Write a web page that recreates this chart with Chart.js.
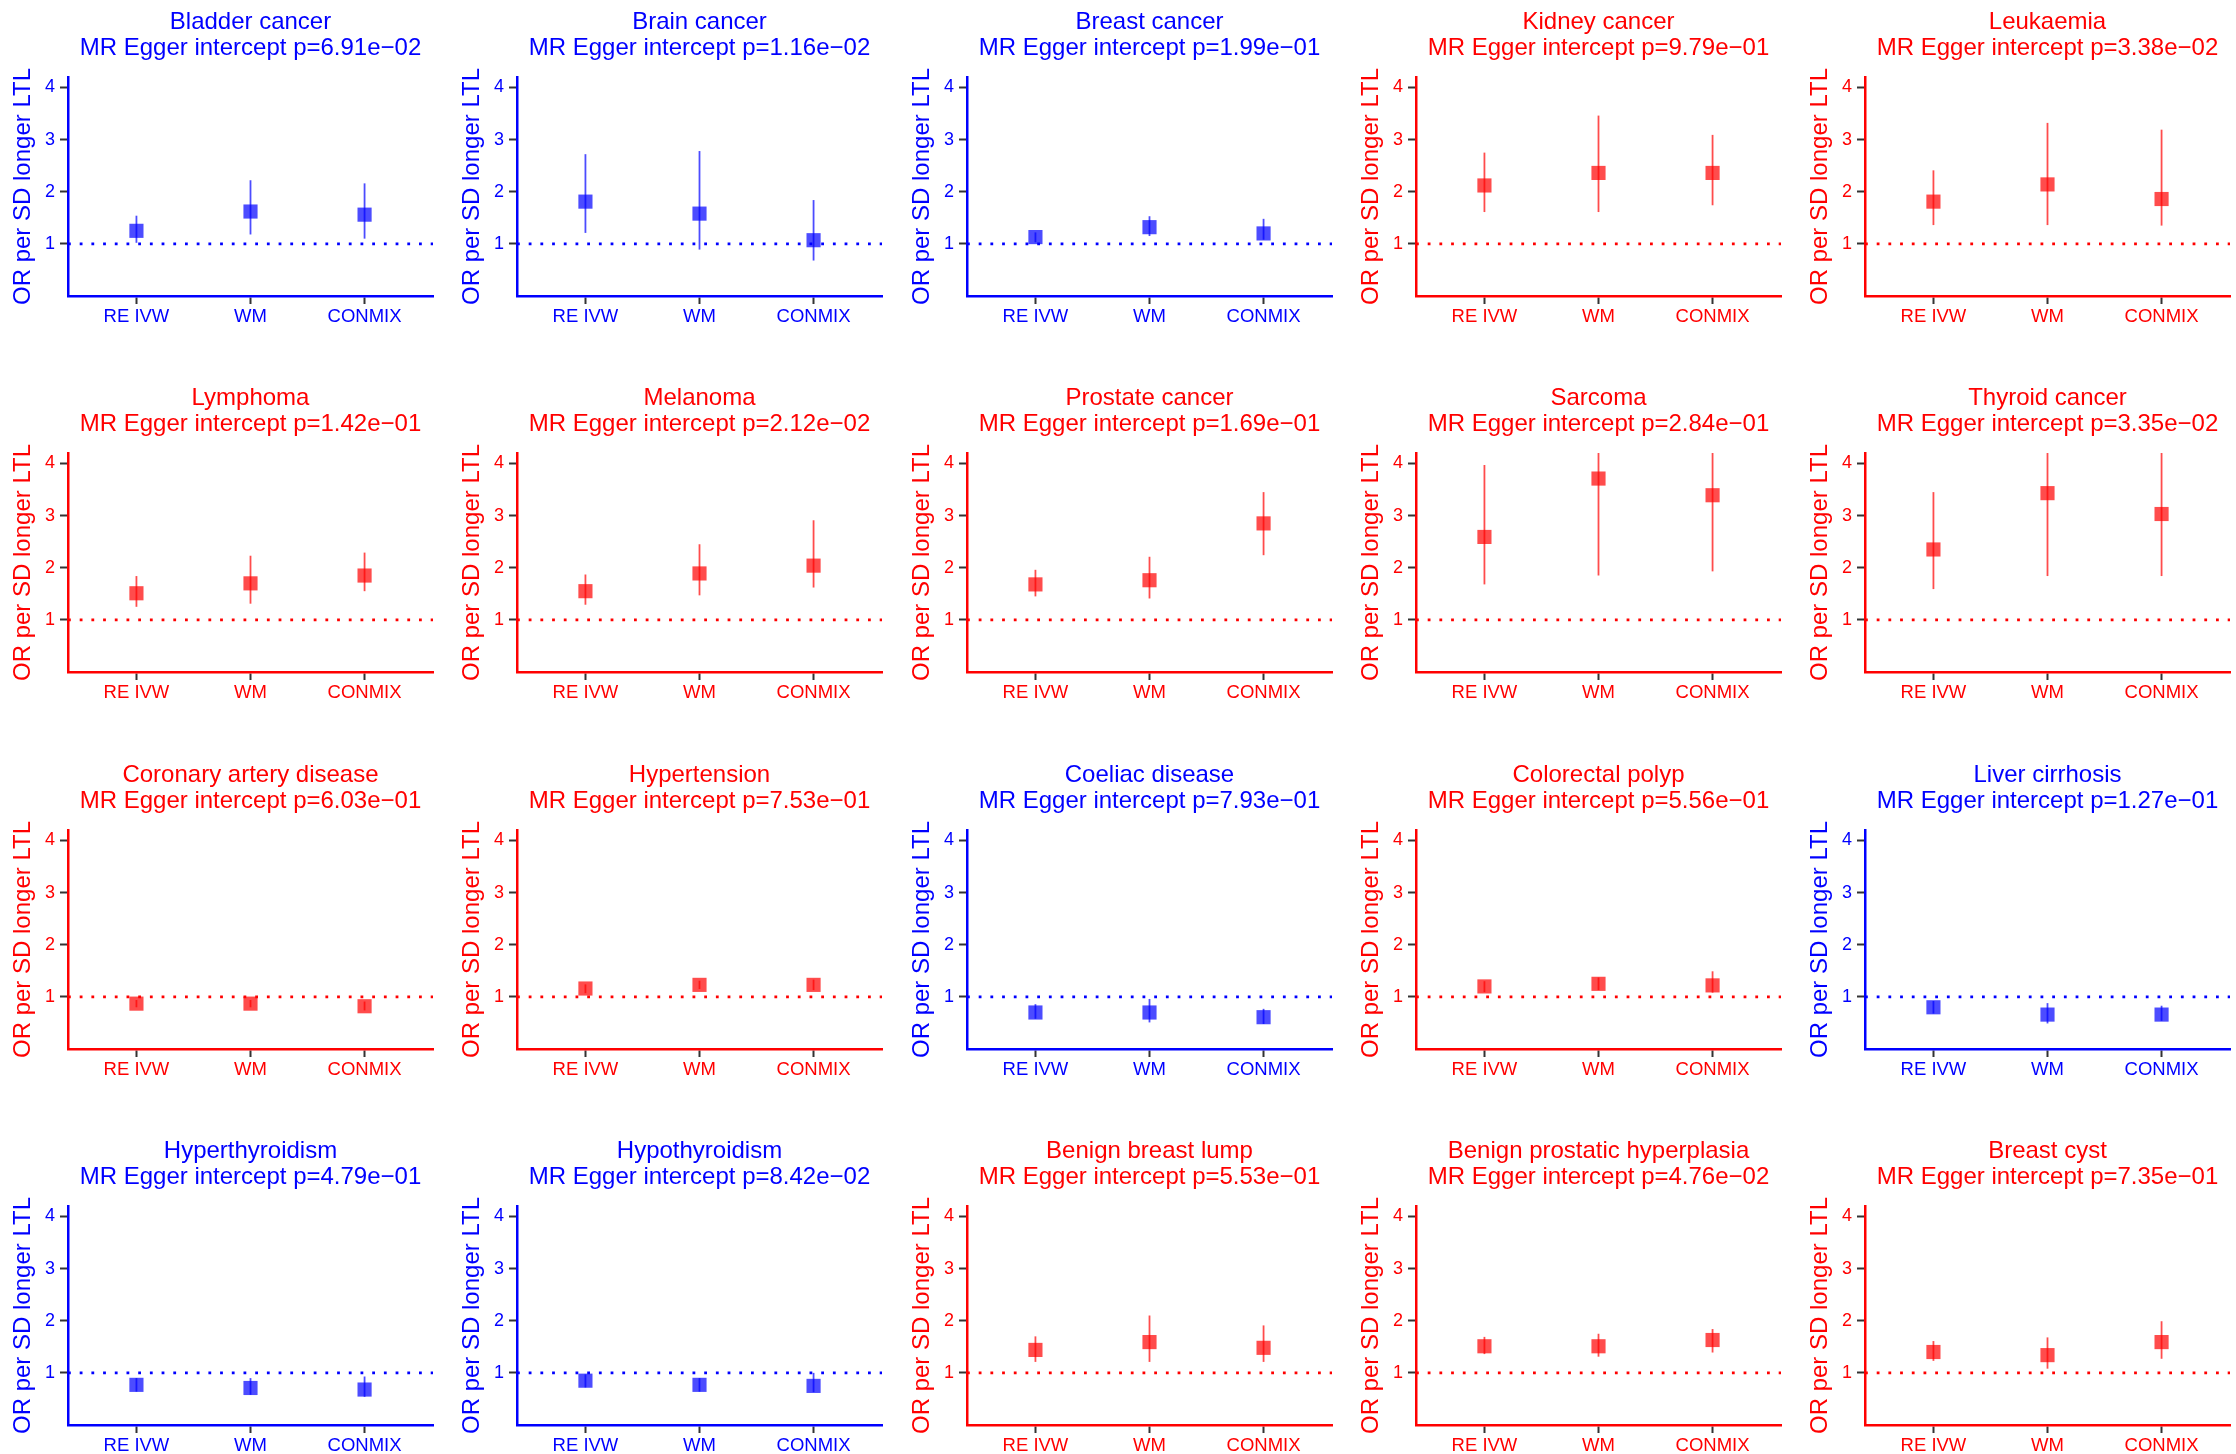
<!DOCTYPE html>
<html><head><meta charset="utf-8">
<script src="https://cdn.jsdelivr.net/npm/chart.js@4.4.0/dist/chart.umd.min.js"></script>
<style>
html,body{margin:0;padding:0;background:#fff;width:2236px;height:1454px;overflow:hidden;}
.panel{position:absolute;width:449px;height:335px;}
canvas{display:block;}
</style></head><body>
<script>
// ---------- data ----------
const methods = ['RE IVW', 'WM', 'CONMIX'];
const outcomes = [
  'Bladder cancer', 'Brain cancer', 'Breast cancer', 'Kidney cancer', 'Leukaemia',
  'Lymphoma', 'Melanoma', 'Prostate cancer', 'Sarcoma', 'Thyroid cancer',
  'Coronary artery disease', 'Hypertension', 'Coeliac disease', 'Colorectal polyp', 'Liver cirrhosis',
  'Hyperthyroidism', 'Hypothyroidism', 'Benign breast lump', 'Benign prostatic hyperplasia', 'Breast cyst'
];
const eggerP = [
  '6.91e\u221202', '1.16e\u221202', '1.99e\u221201', '9.79e\u221201', '3.38e\u221202',
  '1.42e\u221201', '2.12e\u221202', '1.69e\u221201', '2.84e\u221201', '3.35e\u221202',
  '6.03e\u221201', '7.53e\u221201', '7.93e\u221201', '5.56e\u221201', '1.27e\u221201',
  '4.79e\u221201', '8.42e\u221202', '5.53e\u221201', '4.76e\u221202', '7.35e\u221201'
];
// true = highlighted outcome group (drawn red), false = other group (drawn blue)
const highlighted = [
  false, false, false, true, true,
  true, true, true, true, true,
  true, true, false, true, false,
  false, false, true, true, true
];
// odds ratios per outcome: [RE IVW, WM, CONMIX]
const estimate = [
  [1.25, 1.62, 1.56], [1.81, 1.58, 1.07], [1.13, 1.32, 1.20], [2.12, 2.36, 2.36], [1.81, 2.14, 1.86],
  [1.51, 1.70, 1.85], [1.55, 1.89, 2.04], [1.68, 1.76, 2.85], [2.59, 3.71, 3.39], [2.35, 3.43, 3.03],
  [0.87, 0.87, 0.82], [1.16, 1.23, 1.23], [0.70, 0.70, 0.61], [1.20, 1.25, 1.22], [0.80, 0.66, 0.66],
  [0.77, 0.71, 0.68], [0.85, 0.77, 0.75], [1.44, 1.59, 1.48], [1.51, 1.51, 1.63], [1.40, 1.34, 1.59]
];
const lower = [
  [1.02, 1.18, 1.10], [1.21, 0.89, 0.68], [1.03, 1.15, 1.08], [1.61, 1.61, 1.74], [1.36, 1.36, 1.35],
  [1.25, 1.31, 1.55], [1.29, 1.47, 1.62], [1.45, 1.41, 2.24], [1.68, 1.85, 1.93], [1.59, 1.84, 1.84],
  [0.80, 0.80, 0.74], [1.07, 1.15, 1.13], [0.58, 0.51, 0.48], [1.09, 1.13, 1.08], [0.68, 0.49, 0.54],
  [0.64, 0.58, 0.54], [0.72, 0.64, 0.63], [1.21, 1.21, 1.21], [1.36, 1.31, 1.39], [1.23, 1.08, 1.27]
];
const upper = [
  [1.54, 2.22, 2.16], [2.72, 2.78, 1.84], [1.22, 1.53, 1.48], [2.75, 3.46, 3.09], [2.41, 3.32, 3.19],
  [1.84, 2.23, 2.29], [1.87, 2.45, 2.91], [1.96, 2.21, 3.45], [3.97, 7.40, 5.95], [3.45, 6.40, 5.00],
  [0.94, 0.94, 0.91], [1.24, 1.31, 1.33], [0.86, 0.96, 0.77], [1.30, 1.37, 1.49], [0.92, 0.88, 0.83],
  [0.90, 0.90, 0.93], [0.97, 0.90, 1.00], [1.70, 2.10, 1.91], [1.69, 1.75, 1.84], [1.61, 1.68, 1.99]
];
const yTicks = [1, 2, 3, 4];
const yMin = 0, yMax = 4.2;
const nullOR = 1;
const yTitle = 'OR per SD longer LTL';

// ---------- drawing ----------
const FONT = '"Liberation Sans", Arial, Helvetica, sans-serif';
const RED = '#ff0000', BLUE = '#0000ff';
const RED_T = 'rgba(255,0,0,0.7)', BLUE_T = 'rgba(0,0,255,0.7)';

outcomes.forEach((name, i) => {
  const col = i % 5, row = Math.floor(i / 5);
  const wrap = document.createElement('div');
  wrap.className = 'panel';
  wrap.style.left = Math.round(col * 449.3) + 'px';
  wrap.style.top = Math.round(row * 376.3) + 'px';
  const cv = document.createElement('canvas');
  cv.width = 449; cv.height = 335;
  wrap.appendChild(cv);
  document.body.appendChild(wrap);

  const c = highlighted[i] ? RED : BLUE;
  const fill = highlighted[i] ? RED_T : BLUE_T;

  const datasets = [];
  datasets.push({
    data: methods.map((m, j) => ({x: j + 1, y: estimate[i][j]})),
    showLine: false, pointStyle: 'rect', pointRadius: 10,
    backgroundColor: fill, borderWidth: 0
  });
  methods.forEach((m, j) => datasets.push({
    data: [{x: j + 1, y: lower[i][j]}, {x: j + 1, y: upper[i][j]}],
    showLine: true, borderColor: fill, borderWidth: 1.8, pointRadius: 0
  }));
  datasets.push({
    data: [{x: 0.4, y: nullOR}, {x: 3.6, y: nullOR}],
    showLine: true, borderColor: c, borderWidth: 2.8, borderDash: [2.8, 8.9],
    pointRadius: 0
  });

  const tickGrid = {drawOnChartArea: false, drawTicks: true, tickLength: 8, tickColor: '#333333', tickWidth: 2};

  new Chart(cv, {
    type: 'scatter',
    data: {datasets},
    options: {
      responsive: false, animation: false, events: [],
      layout: {padding: {left: 0, right: 16, top: 0, bottom: 0}},
      plugins: {
        legend: {display: false},
        tooltip: {enabled: false},
        title: {
          display: true,
          fullSize: false,
          text: [name, 'MR Egger intercept p=' + eggerP[i]],
          color: c,
          font: {family: FONT, size: 24, weight: 'normal', lineHeight: 26 / 24},
          padding: {top: 9, bottom: 16}
        }
      },
      scales: {
        x: {
          type: 'linear', min: 0.4, max: 3.6,
          afterBuildTicks: s => { s.ticks = methods.map((m, j) => ({value: j + 1})); },
          afterFit: s => { s.height = 39; },
          ticks: {
            callback: v => methods[Math.round(v) - 1],
            color: c, font: {family: FONT, size: 18.5}, padding: 2,
            maxRotation: 0, autoSkip: false
          },
          grid: tickGrid,
          border: {display: true, color: c, width: 2.5}
        },
        y: {
          type: 'linear', min: yMin, max: yMax,
          afterBuildTicks: s => { s.ticks = yTicks.map(v => ({value: v})); },
          afterFit: s => { s.width = 68; },
          ticks: {color: c, font: {family: FONT, size: 18}, padding: 5},
          grid: tickGrid,
          border: {display: true, color: c, width: 2.5},
          title: {
            display: true, text: yTitle, color: c,
            font: {family: FONT, size: 24, lineHeight: 1.2},
            padding: {top: 9, bottom: 0}
          }
        }
      }
    }
  });
});
</script>
</body></html>
